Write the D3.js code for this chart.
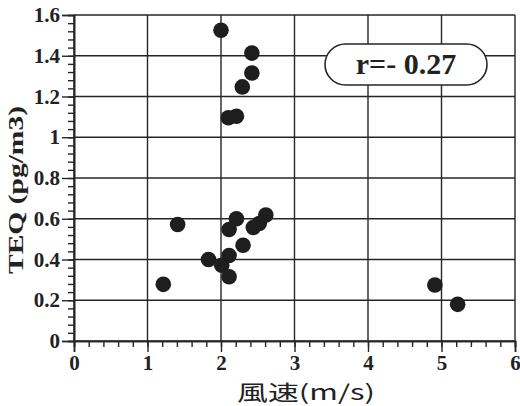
<!DOCTYPE html>
<html>
<head>
<meta charset="utf-8">
<script src="https://cdn.jsdelivr.net/npm/d3@7"></script>
<style>
	body { margin: 0; background: #fff; }
	svg text { fill: #222; }
</style>
</head>
<body>
<div id="chart"></div>
<script>
// wind speed (m/s) vs TEQ (pg/m3)
var windSpeed = [2.0, 2.42, 2.42, 2.29, 2.21, 2.10, 2.61, 2.21, 2.11, 2.44, 2.52, 2.30, 1.83, 2.11, 2.01, 2.11, 4.91, 5.22, 1.41, 1.215];
var teq = [1.525, 1.413, 1.315, 1.247, 1.103, 1.096, 0.618, 0.60, 0.547, 0.557, 0.577, 0.47, 0.40, 0.42, 0.372, 0.315, 0.275, 0.18, 0.572, 0.278];
var xTicks = [0, 1, 2, 3, 4, 5, 6];
var yTicks = [0, 0.2, 0.4, 0.6, 0.8, 1, 1.2, 1.4, 1.6];
var corrLabel = "r=- 0.27";

var width = 520, height = 406;
var margin = {top: 15, right: 5, bottom: 65, left: 74};
var ink = "#262626";

var svg = d3.select("#chart").append("svg")
	.attr("width", width)
	.attr("height", height);

var x = d3.scaleLinear().domain([0, 6]).range([margin.left, width - margin.right]);
var y = d3.scaleLinear().domain([0, 1.6]).range([height - margin.bottom, margin.top]);

// grid
svg.append("g")
	.selectAll("line")
	.data(xTicks)
	.join("line")
	.attr("x1", d => x(d)).attr("x2", d => x(d))
	.attr("y1", y(0)).attr("y2", y(1.6))
	.attr("stroke", ink).attr("stroke-width", 1.4);

svg.append("g")
	.selectAll("line")
	.data(yTicks)
	.join("line")
	.attr("x1", x(0)).attr("x2", x(6))
	.attr("y1", d => y(d)).attr("y2", d => y(d))
	.attr("stroke", ink).attr("stroke-width", 1.4);

// axes (major ticks long, minor ticks short)
var xAxis = d3.axisBottom(x).tickValues(xTicks).tickFormat(d3.format("d")).tickSize(11).tickPadding(3);
var xMinor = d3.axisBottom(x).tickValues(d3.range(0, 6.01, 0.2)).tickFormat("").tickSize(6);
var yAxis = d3.axisLeft(y).tickValues(yTicks).tickFormat(d => d === 0 || d === 1 ? d : d3.format(".1f")(d)).tickSize(12).tickPadding(2);
var yMinor = d3.axisLeft(y).tickValues(d3.range(0, 1.601, 0.04)).tickFormat("").tickSize(6);

function styleAxis(g) {
	g.attr("font-size", 21).attr("font-family", "'Liberation Serif', serif").attr("font-weight", "bold");
	g.select(".domain").attr("stroke", ink).attr("stroke-width", 1.6);
	g.selectAll(".tick line").attr("stroke", ink).attr("stroke-width", 1.4);
	g.selectAll("text")
		.attr("fill", "#222")
		.style("font-family", "'Liberation Serif', 'DejaVu Serif', serif")
		.style("font-weight", "bold")
		.style("font-size", "21px");
}

svg.append("g").attr("transform", "translate(0," + y(0) + ")").call(xMinor).call(styleAxis);
svg.append("g").attr("transform", "translate(0," + y(0) + ")").call(xAxis).call(styleAxis);
svg.append("g").attr("transform", "translate(" + x(0) + ",0)").call(yMinor).call(styleAxis);
svg.append("g").attr("transform", "translate(" + x(0) + ",0)").call(yAxis).call(styleAxis);

// points
svg.append("g")
	.selectAll("circle")
	.data(windSpeed.map((d, i) => [d, teq[i]]))
	.join("circle")
	.attr("cx", d => x(d[0]))
	.attr("cy", d => y(d[1]))
	.attr("r", 7.8)
	.attr("fill", "#1e1e1e");

// correlation label in a pill
var pill = svg.append("g");
pill.append("rect")
	.attr("x", 325).attr("y", 44)
	.attr("width", 162).attr("height", 41)
	.attr("rx", 20.5).attr("ry", 20.5)
	.attr("fill", "#fff")
	.attr("stroke", ink).attr("stroke-width", 1.6);
pill.append("text")
	.attr("x", 406).attr("y", 74)
	.attr("text-anchor", "middle")
	.style("font-family", "'Liberation Serif', serif")
	.style("font-weight", "bold")
	.style("font-size", "30px")
	.text(corrLabel);

// axis titles
svg.append("text")
	.attr("transform", "translate(23," + 190 + ") rotate(-90)")
	.attr("text-anchor", "middle")
	.attr("textLength", 168)
	.attr("lengthAdjust", "spacingAndGlyphs")
	.style("font-family", "'Liberation Serif', serif")
	.style("font-weight", "bold")
	.style("font-size", "22px")
	.text("TEQ (pg/m3)");

svg.append("text")
	.attr("x", 306).attr("y", 400)
	.attr("text-anchor", "middle")
	.attr("textLength", 138)
	.attr("lengthAdjust", "spacingAndGlyphs")
	.style("font-family", "'Noto Sans CJK JP', sans-serif")
	.style("font-size", "21px")
	.text("風速(m/s)");
</script>
</body>
</html>
